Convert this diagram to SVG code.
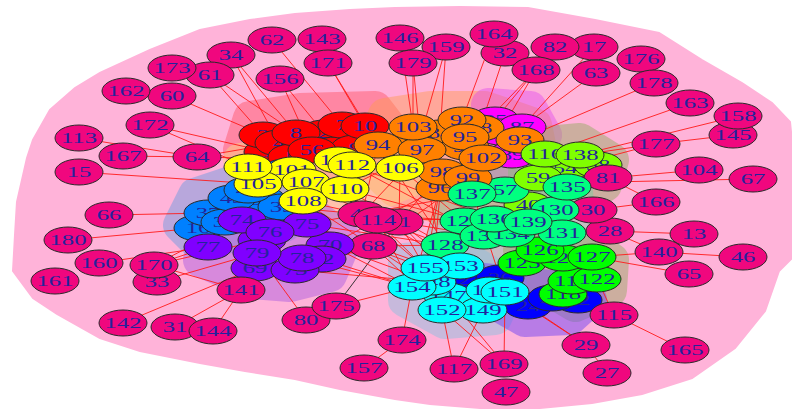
<svg xmlns="http://www.w3.org/2000/svg" width="792" height="411" viewBox="0 0 792 411">
<style>
ellipse{stroke:#2a2a2a;stroke-width:1}
text{font-family:"Liberation Serif","Times New Roman",serif;font-size:15px;fill:#23239c;text-anchor:middle}
.pk ellipse{fill:#f0077e}
.r ellipse{fill:#ff0000}
.o ellipse{fill:#ff8000}
.m ellipse{fill:#ff00ff}
.c ellipse{fill:#80ff00}
.y ellipse{fill:#ffff00}
.d ellipse{fill:#0080ff}
.pu ellipse{fill:#8000ff}
.s ellipse{fill:#00ff80}
.g ellipse{fill:#00ff00}
.cy ellipse{fill:#00ffff}
.b ellipse{fill:#0000ff}
.hull polygon{stroke-width:34;stroke-linejoin:round}
#edges line{stroke:#ff1a1a;stroke-width:0.9}
#edges line.k{stroke:#222}
</style>

<!-- community hulls -->
<g id="hulls">
<polygon fill="#ffb3d9" stroke="#ffb3d9" stroke-width="2" points="200,30 250,20 295,14 350,10 395,8 460,7 528,8 595,20 659,33 702,60 742,83 772,103 790,122 798,200 795,255 779,271 765,311 735,348 692,378 642,394 592,403 540,408 480,408 430,404 395,399 340,389 295,379 245,371 200,363 140,351 100,338 57,314 33,298 13,271 15,235 17,202 27,158 33,140 50,110 75,88 100,73 150,50"/>
<g class="hull" opacity="0.5"><polygon fill="#ff5a6e" stroke="#ff5a6e" points="250,118 300,110 375,108 392,130 372,160 320,168 262,172 240,150"/></g>
<g class="hull" opacity="0.45"><polygon fill="#ff9a50" stroke="#ff9a50" points="385,115 430,108 485,108 535,125 540,150 500,200 440,208 395,190 365,160"/></g>
<g class="hull" opacity="0.4"><polygon fill="#e040f0" stroke="#e040f0" points="488,105 530,108 545,135 525,168 495,160"/></g>
<g class="hull" opacity="0.5"><polygon fill="#ffd080" stroke="#ffd080" points="240,160 290,155 345,148 405,158 410,180 350,205 300,215 250,195"/></g>
<g class="hull" opacity="0.55"><polygon fill="#7f9fe0" stroke="#7f9fe0" points="195,195 240,180 290,165 305,200 285,225 240,235 195,240 180,225"/></g>
<g class="hull" opacity="0.5"><polygon fill="#b060e0" stroke="#b060e0" points="205,240 240,212 310,212 345,240 330,275 290,285 250,282 200,260"/></g>
<g class="hull" opacity="0.5"><polygon fill="#9bab67" stroke="#9bab67" points="525,145 580,140 612,160 605,185 545,215 525,190"/></g>
<g class="hull" opacity="0.4"><polygon fill="#70d0a0" stroke="#70d0a0" points="470,185 520,178 575,180 580,240 530,250 440,252 450,215"/></g>
<g class="hull" opacity="0.5"><polygon fill="#9bab67" stroke="#9bab67" points="520,250 590,245 612,260 610,290 575,305 525,275"/></g>
<g class="hull" opacity="0.5"><polygon fill="#91bfdf" stroke="#91bfdf" points="405,260 460,255 510,285 495,318 445,322 405,300"/></g>
<g class="hull" opacity="0.5"><polygon fill="#7347f3" stroke="#7347f3" points="465,278 560,288 590,300 570,318 525,320 490,300"/></g>
</g>

<!-- connectors -->
<g id="edges">
<line x1="210" y1="75" x2="263" y2="135"/>
<line x1="210" y1="75" x2="296" y2="133"/>
<line x1="231" y1="55" x2="279" y2="143"/>
<line x1="231" y1="55" x2="296" y2="133"/>
<line x1="272" y1="40" x2="342" y2="125"/>
<line x1="280" y1="79" x2="324" y2="133"/>
<line x1="280" y1="79" x2="312" y2="150"/>
<line x1="328" y1="63" x2="365" y2="126"/>
<line x1="328" y1="63" x2="378" y2="145"/>
<line x1="400" y1="38" x2="413" y2="127"/>
<line x1="413" y1="63" x2="413" y2="127"/>
<line x1="413" y1="63" x2="420" y2="138"/>
<line x1="446" y1="47" x2="440" y2="133"/>
<line x1="446" y1="47" x2="420" y2="138"/>
<line x1="494" y1="34" x2="462" y2="120"/>
<line x1="505" y1="53" x2="480" y2="128"/>
<line x1="536" y1="70" x2="495" y2="120"/>
<line x1="536" y1="70" x2="500" y2="132"/>
<line x1="536" y1="70" x2="480" y2="128"/>
<line x1="594" y1="47" x2="522" y2="127"/>
<line x1="596" y1="73" x2="522" y2="127"/>
<line x1="654" y1="83" x2="520" y2="140"/>
<line x1="690" y1="103" x2="545" y2="154"/>
<line x1="738" y1="116" x2="580" y2="155"/>
<line x1="733" y1="135" x2="656" y2="144"/>
<line x1="656" y1="144" x2="580" y2="155"/>
<line x1="656" y1="144" x2="565" y2="168"/>
<line x1="699" y1="170" x2="608" y2="178"/>
<line x1="753" y1="179" x2="608" y2="182"/>
<line x1="608" y1="178" x2="656" y2="202"/>
<line x1="656" y1="202" x2="593" y2="210"/>
<line x1="610" y1="231" x2="694" y2="234"/>
<line x1="610" y1="231" x2="659" y2="252"/>
<line x1="659" y1="252" x2="592" y2="257"/>
<line x1="659" y1="252" x2="743" y2="257"/>
<line x1="592" y1="257" x2="689" y2="274"/>
<line x1="614" y1="315" x2="597" y2="279"/>
<line x1="614" y1="315" x2="685" y2="350"/>
<line x1="586" y1="345" x2="528" y2="306"/>
<line x1="586" y1="345" x2="505" y2="292"/>
<line x1="607" y1="373" x2="586" y2="345"/>
<line x1="504" y1="364" x2="448" y2="296"/>
<line x1="504" y1="364" x2="505" y2="292"/>
<line x1="504" y1="364" x2="442" y2="310"/>
<line x1="454" y1="369" x2="442" y2="310"/>
<line x1="454" y1="369" x2="483" y2="310"/>
<line x1="402" y1="340" x2="412" y2="287"/>
<line x1="364" y1="368" x2="402" y2="340"/>
<line x1="336" y1="306" x2="412" y2="287"/>
<line class="k" x1="336" y1="306" x2="399" y2="222"/>
<line x1="306" y1="320" x2="257" y2="253"/>
<line x1="241" y1="290" x2="302" y2="258"/>
<line x1="241" y1="290" x2="154" y2="265"/>
<line x1="241" y1="290" x2="175" y2="327"/>
<line x1="213" y1="331" x2="241" y2="290"/>
<line x1="123" y1="323" x2="255" y2="268"/>
<line x1="157" y1="282" x2="257" y2="253"/>
<line x1="154" y1="265" x2="242" y2="220"/>
<line x1="154" y1="265" x2="208" y2="247"/>
<line x1="154" y1="265" x2="262" y2="240"/>
<line x1="99" y1="263" x2="208" y2="247"/>
<line x1="68" y1="240" x2="198" y2="228"/>
<line x1="109" y1="215" x2="208" y2="213"/>
<line x1="79" y1="172" x2="258" y2="184"/>
<line x1="79" y1="138" x2="197" y2="157"/>
<line x1="123" y1="156" x2="197" y2="157"/>
<line x1="150" y1="125" x2="268" y2="152"/>
<line x1="150" y1="125" x2="248" y2="167"/>
<line x1="172" y1="96" x2="263" y2="135"/>
<line x1="197" y1="157" x2="338" y2="160"/>
<line x1="197" y1="157" x2="279" y2="143"/>
<!-- central mesh -->
<line x1="362" y1="214" x2="472" y2="194"/>
<line x1="362" y1="214" x2="464" y2="221"/>
<line x1="362" y1="214" x2="445" y2="245"/>
<line x1="362" y1="214" x2="425" y2="268"/>
<line x1="362" y1="214" x2="307" y2="224"/>
<line x1="362" y1="214" x2="378" y2="145"/>
<line x1="362" y1="214" x2="422" y2="150"/>
<line x1="378" y1="220" x2="494" y2="219"/>
<line x1="378" y1="220" x2="460" y2="266"/>
<line x1="378" y1="220" x2="412" y2="287"/>
<line x1="378" y1="220" x2="440" y2="188"/>
<line x1="378" y1="220" x2="345" y2="189"/>
<line x1="378" y1="220" x2="330" y2="245"/>
<line x1="399" y1="222" x2="484" y2="236"/>
<line x1="399" y1="222" x2="483" y2="310"/>
<line x1="399" y1="222" x2="490" y2="290"/>
<line x1="399" y1="222" x2="442" y2="172"/>
<line x1="399" y1="222" x2="400" y2="168"/>
<line x1="399" y1="222" x2="322" y2="259"/>
<line x1="399" y1="222" x2="425" y2="268"/>
<line x1="373" y1="246" x2="448" y2="296"/>
<line x1="373" y1="246" x2="442" y2="310"/>
<line x1="373" y1="246" x2="445" y2="245"/>
<line x1="373" y1="246" x2="468" y2="178"/>
<line x1="373" y1="246" x2="303" y2="201"/>
<line x1="373" y1="246" x2="295" y2="270"/>
<line x1="373" y1="246" x2="470" y2="280"/>
<line x1="345" y1="189" x2="464" y2="221"/>
<line x1="345" y1="189" x2="445" y2="245"/>
<line x1="345" y1="189" x2="425" y2="268"/>
<line x1="400" y1="168" x2="472" y2="194"/>
<line x1="400" y1="168" x2="464" y2="221"/>
<line x1="352" y1="165" x2="484" y2="236"/>
<line x1="338" y1="160" x2="494" y2="219"/>
<line x1="307" y1="224" x2="425" y2="268"/>
<line x1="307" y1="224" x2="445" y2="245"/>
<line x1="330" y1="245" x2="412" y2="287"/>
<line x1="330" y1="245" x2="432" y2="282"/>
<line x1="322" y1="259" x2="412" y2="287"/>
<line x1="440" y1="188" x2="412" y2="287"/>
<line x1="440" y1="188" x2="425" y2="268"/>
<line x1="442" y1="172" x2="432" y2="282"/>
<line x1="468" y1="178" x2="500" y2="278"/>
<line x1="465" y1="147" x2="472" y2="194"/>
<line x1="303" y1="201" x2="362" y2="214"/>
<line x1="306" y1="182" x2="378" y2="220"/>
<line x1="282" y1="207" x2="362" y2="214"/>
<line x1="378" y1="145" x2="345" y2="189"/>
<line x1="422" y1="150" x2="345" y2="189"/>
<line x1="302" y1="258" x2="412" y2="287"/>
<line x1="295" y1="270" x2="432" y2="282"/>
<line x1="422" y1="150" x2="448" y2="296"/>
<line x1="378" y1="145" x2="460" y2="266"/>
</g>

<!-- vertices -->
<g id="v1" class="r" transform="translate(268 152)"><ellipse rx="24" ry="13"/><text transform="scale(1.65 1)" y="5">1</text></g>
<g id="v2" class="r" transform="translate(324 133)"><ellipse rx="24" ry="13"/><text transform="scale(1.65 1)" y="5">2</text></g>
<g id="v3" class="r" transform="translate(263 135)"><ellipse rx="24" ry="13"/><text transform="scale(1.65 1)" y="5">3</text></g>
<g id="v4" class="r" transform="translate(279 143)"><ellipse rx="24" ry="13"/><text transform="scale(1.65 1)" y="5">4</text></g>
<g id="v5" class="r" transform="translate(292 157)"><ellipse rx="24" ry="13"/><text transform="scale(1.65 1)" y="5">5</text></g>
<g id="v6" class="r" transform="translate(335 150)"><ellipse rx="24" ry="13"/><text transform="scale(1.65 1)" y="5">6</text></g>
<g id="v7" class="r" transform="translate(342 125)"><ellipse rx="24" ry="13"/><text transform="scale(1.65 1)" y="5">7</text></g>
<g id="v8" class="r" transform="translate(296 133)"><ellipse rx="24" ry="13"/><text transform="scale(1.65 1)" y="5">8</text></g>
<g id="v9" class="r" transform="translate(355 148)"><ellipse rx="24" ry="13"/><text transform="scale(1.65 1)" y="5">9</text></g>
<g id="v10" class="r" transform="translate(365 126)"><ellipse rx="24" ry="13"/><text transform="scale(1.65 1)" y="5">10</text></g>
<g id="v13" class="pk" transform="translate(694 234)"><ellipse rx="24" ry="13"/><text transform="scale(1.65 1)" y="5">13</text></g>
<g id="v15" class="pk" transform="translate(79 172)"><ellipse rx="24" ry="13"/><text transform="scale(1.65 1)" y="5">15</text></g>
<g id="v16" class="d" transform="translate(198 228)"><ellipse rx="24" ry="13"/><text transform="scale(1.65 1)" y="5">16</text></g>
<g id="v17" class="pk" transform="translate(594 47)"><ellipse rx="24" ry="13"/><text transform="scale(1.65 1)" y="5">17</text></g>
<g id="v22" class="b" transform="translate(578 300)"><ellipse rx="24" ry="13"/><text transform="scale(1.65 1)" y="5">22</text></g>
<g id="v23" class="b" transform="translate(470 280)"><ellipse rx="24" ry="13"/><text transform="scale(1.65 1)" y="5">23</text></g>
<g id="v24" class="b" transform="translate(528 306)"><ellipse rx="24" ry="13"/><text transform="scale(1.65 1)" y="5">24</text></g>
<g id="v25" class="b" transform="translate(552 298)"><ellipse rx="24" ry="13"/><text transform="scale(1.65 1)" y="5">25</text></g>
<g id="v26" class="b" transform="translate(500 278)"><ellipse rx="24" ry="13"/><text transform="scale(1.65 1)" y="5">26</text></g>
<g id="v27" class="pk" transform="translate(607 373)"><ellipse rx="24" ry="13"/><text transform="scale(1.65 1)" y="5">27</text></g>
<g id="v28" class="pk" transform="translate(610 231)"><ellipse rx="24" ry="13"/><text transform="scale(1.65 1)" y="5">28</text></g>
<g id="v29" class="pk" transform="translate(586 345)"><ellipse rx="24" ry="13"/><text transform="scale(1.65 1)" y="5">29</text></g>
<g id="v30" class="pk" transform="translate(593 210)"><ellipse rx="24" ry="13"/><text transform="scale(1.65 1)" y="5">30</text></g>
<g id="v31" class="pk" transform="translate(175 327)"><ellipse rx="24" ry="13"/><text transform="scale(1.65 1)" y="5">31</text></g>
<g id="v32" class="pk" transform="translate(505 53)"><ellipse rx="24" ry="13"/><text transform="scale(1.65 1)" y="5">32</text></g>
<g id="v33" class="pk" transform="translate(157 282)"><ellipse rx="24" ry="13"/><text transform="scale(1.65 1)" y="5">33</text></g>
<g id="v34" class="pk" transform="translate(231 55)"><ellipse rx="24" ry="13"/><text transform="scale(1.65 1)" y="5">34</text></g>
<g id="v35" class="d" transform="translate(262 215)"><ellipse rx="24" ry="13"/><text transform="scale(1.65 1)" y="5">35</text></g>
<g id="v36" class="d" transform="translate(262 200)"><ellipse rx="24" ry="13"/><text transform="scale(1.65 1)" y="5">36</text></g>
<g id="v37" class="d" transform="translate(208 213)"><ellipse rx="24" ry="13"/><text transform="scale(1.65 1)" y="5">37</text></g>
<g id="v38" class="d" transform="translate(225 222)"><ellipse rx="24" ry="13"/><text transform="scale(1.65 1)" y="5">38</text></g>
<g id="v39" class="d" transform="translate(282 207)"><ellipse rx="24" ry="13"/><text transform="scale(1.65 1)" y="5">39</text></g>
<g id="v40" class="c" transform="translate(528 205)"><ellipse rx="24" ry="13"/><text transform="scale(1.65 1)" y="5">40</text></g>
<g id="v43" class="d" transform="translate(232 198)"><ellipse rx="24" ry="13"/><text transform="scale(1.65 1)" y="5">43</text></g>
<g id="v44" class="d" transform="translate(248 190)"><ellipse rx="24" ry="13"/><text transform="scale(1.65 1)" y="5">44</text></g>
<g id="v45" class="d" transform="translate(285 172)"><ellipse rx="24" ry="13"/><text transform="scale(1.65 1)" y="5">45</text></g>
<g id="v46" class="pk" transform="translate(743 257)"><ellipse rx="24" ry="13"/><text transform="scale(1.65 1)" y="5">46</text></g>
<g id="v47" class="pk" transform="translate(506 392)"><ellipse rx="24" ry="13"/><text transform="scale(1.65 1)" y="5">47</text></g>
<g id="v48" class="pk" transform="translate(362 214)"><ellipse rx="24" ry="13"/><text transform="scale(1.65 1)" y="5">48</text></g>
<g id="v54" class="c" transform="translate(565 168)"><ellipse rx="24" ry="13"/><text transform="scale(1.65 1)" y="5">54</text></g>
<g id="v56" class="r" transform="translate(312 150)"><ellipse rx="24" ry="13"/><text transform="scale(1.65 1)" y="5">56</text></g>
<g id="v57" class="s" transform="translate(505 190)"><ellipse rx="24" ry="13"/><text transform="scale(1.65 1)" y="5">57</text></g>
<g id="v58" class="c" transform="translate(598 165)"><ellipse rx="24" ry="13"/><text transform="scale(1.65 1)" y="5">58</text></g>
<g id="v59" class="c" transform="translate(538 178)"><ellipse rx="24" ry="13"/><text transform="scale(1.65 1)" y="5">59</text></g>
<g id="v60" class="pk" transform="translate(172 96)"><ellipse rx="24" ry="13"/><text transform="scale(1.65 1)" y="5">60</text></g>
<g id="v61" class="pk" transform="translate(210 75)"><ellipse rx="24" ry="13"/><text transform="scale(1.65 1)" y="5">61</text></g>
<g id="v62" class="pk" transform="translate(272 40)"><ellipse rx="24" ry="13"/><text transform="scale(1.65 1)" y="5">62</text></g>
<g id="v63" class="pk" transform="translate(596 73)"><ellipse rx="24" ry="13"/><text transform="scale(1.65 1)" y="5">63</text></g>
<g id="v64" class="pk" transform="translate(197 157)"><ellipse rx="24" ry="13"/><text transform="scale(1.65 1)" y="5">64</text></g>
<g id="v65" class="pk" transform="translate(689 274)"><ellipse rx="24" ry="13"/><text transform="scale(1.65 1)" y="5">65</text></g>
<g id="v66" class="pk" transform="translate(109 215)"><ellipse rx="24" ry="13"/><text transform="scale(1.65 1)" y="5">66</text></g>
<g id="v67" class="pk" transform="translate(753 179)"><ellipse rx="24" ry="13"/><text transform="scale(1.65 1)" y="5">67</text></g>
<g id="v68" class="pk" transform="translate(373 246)"><ellipse rx="24" ry="13"/><text transform="scale(1.65 1)" y="5">68</text></g>
<g id="v69" class="pu" transform="translate(255 268)"><ellipse rx="24" ry="13"/><text transform="scale(1.65 1)" y="5">69</text></g>
<g id="v70" class="pu" transform="translate(330 245)"><ellipse rx="24" ry="13"/><text transform="scale(1.65 1)" y="5">70</text></g>
<g id="v71" class="pu" transform="translate(262 240)"><ellipse rx="24" ry="13"/><text transform="scale(1.65 1)" y="5">71</text></g>
<g id="v72" class="pu" transform="translate(322 259)"><ellipse rx="24" ry="13"/><text transform="scale(1.65 1)" y="5">72</text></g>
<g id="v73" class="pu" transform="translate(295 270)"><ellipse rx="24" ry="13"/><text transform="scale(1.65 1)" y="5">73</text></g>
<g id="v74" class="pu" transform="translate(242 220)"><ellipse rx="24" ry="13"/><text transform="scale(1.65 1)" y="5">74</text></g>
<g id="v75" class="pu" transform="translate(307 224)"><ellipse rx="24" ry="13"/><text transform="scale(1.65 1)" y="5">75</text></g>
<g id="v76" class="pu" transform="translate(270 232)"><ellipse rx="24" ry="13"/><text transform="scale(1.65 1)" y="5">76</text></g>
<g id="v77" class="pu" transform="translate(208 247)"><ellipse rx="24" ry="13"/><text transform="scale(1.65 1)" y="5">77</text></g>
<g id="v78" class="pu" transform="translate(302 258)"><ellipse rx="24" ry="13"/><text transform="scale(1.65 1)" y="5">78</text></g>
<g id="v79" class="pu" transform="translate(257 253)"><ellipse rx="24" ry="13"/><text transform="scale(1.65 1)" y="5">79</text></g>
<g id="v80" class="pk" transform="translate(306 320)"><ellipse rx="24" ry="13"/><text transform="scale(1.65 1)" y="5">80</text></g>
<g id="v81" class="pk" transform="translate(608 178)"><ellipse rx="24" ry="13"/><text transform="scale(1.65 1)" y="5">81</text></g>
<g id="v82" class="pk" transform="translate(555 47)"><ellipse rx="24" ry="13"/><text transform="scale(1.65 1)" y="5">82</text></g>
<g id="v83" class="o" transform="translate(420 138)"><ellipse rx="24" ry="13"/><text transform="scale(1.65 1)" y="5">83</text></g>
<g id="v84" class="o" transform="translate(440 133)"><ellipse rx="24" ry="13"/><text transform="scale(1.65 1)" y="5">84</text></g>
<g id="v85" class="m" transform="translate(495 120)"><ellipse rx="24" ry="13"/><text transform="scale(1.65 1)" y="5">85</text></g>
<g id="v86" class="m" transform="translate(500 132)"><ellipse rx="24" ry="13"/><text transform="scale(1.65 1)" y="5">86</text></g>
<g id="v87" class="m" transform="translate(522 127)"><ellipse rx="24" ry="13"/><text transform="scale(1.65 1)" y="5">87</text></g>
<g id="v88" class="o" transform="translate(480 128)"><ellipse rx="24" ry="13"/><text transform="scale(1.65 1)" y="5">88</text></g>
<g id="v89" class="m" transform="translate(512 155)"><ellipse rx="24" ry="13"/><text transform="scale(1.65 1)" y="5">89</text></g>
<g id="v90" class="o" transform="translate(465 147)"><ellipse rx="24" ry="13"/><text transform="scale(1.65 1)" y="5">90</text></g>
<g id="v91" class="pk" transform="translate(399 222)"><ellipse rx="24" ry="13"/><text transform="scale(1.65 1)" y="5">91</text></g>
<g id="v92" class="o" transform="translate(462 120)"><ellipse rx="24" ry="13"/><text transform="scale(1.65 1)" y="5">92</text></g>
<g id="v93" class="o" transform="translate(520 140)"><ellipse rx="24" ry="13"/><text transform="scale(1.65 1)" y="5">93</text></g>
<g id="v94" class="o" transform="translate(378 145)"><ellipse rx="24" ry="13"/><text transform="scale(1.65 1)" y="5">94</text></g>
<g id="v95" class="o" transform="translate(465 137)"><ellipse rx="24" ry="13"/><text transform="scale(1.65 1)" y="5">95</text></g>
<g id="v96" class="o" transform="translate(440 188)"><ellipse rx="24" ry="13"/><text transform="scale(1.65 1)" y="5">96</text></g>
<g id="v97" class="o" transform="translate(422 150)"><ellipse rx="24" ry="13"/><text transform="scale(1.65 1)" y="5">97</text></g>
<g id="v98" class="o" transform="translate(442 172)"><ellipse rx="24" ry="13"/><text transform="scale(1.65 1)" y="5">98</text></g>
<g id="v99" class="o" transform="translate(468 178)"><ellipse rx="24" ry="13"/><text transform="scale(1.65 1)" y="5">99</text></g>
<g id="v101" class="y" transform="translate(292 170)"><ellipse rx="24" ry="13"/><text transform="scale(1.65 1)" y="5">101</text></g>
<g id="v102" class="o" transform="translate(483 158)"><ellipse rx="24" ry="13"/><text transform="scale(1.65 1)" y="5">102</text></g>
<g id="v103" class="o" transform="translate(413 127)"><ellipse rx="24" ry="13"/><text transform="scale(1.65 1)" y="5">103</text></g>
<g id="v104" class="pk" transform="translate(699 170)"><ellipse rx="24" ry="13"/><text transform="scale(1.65 1)" y="5">104</text></g>
<g id="v105" class="y" transform="translate(258 184)"><ellipse rx="24" ry="13"/><text transform="scale(1.65 1)" y="5">105</text></g>
<g id="v106" class="y" transform="translate(400 168)"><ellipse rx="24" ry="13"/><text transform="scale(1.65 1)" y="5">106</text></g>
<g id="v107" class="y" transform="translate(306 182)"><ellipse rx="24" ry="13"/><text transform="scale(1.65 1)" y="5">107</text></g>
<g id="v108" class="y" transform="translate(303 201)"><ellipse rx="24" ry="13"/><text transform="scale(1.65 1)" y="5">108</text></g>
<g id="v109" class="y" transform="translate(338 160)"><ellipse rx="24" ry="13"/><text transform="scale(1.65 1)" y="5">109</text></g>
<g id="v110" class="y" transform="translate(345 189)"><ellipse rx="24" ry="13"/><text transform="scale(1.65 1)" y="5">110</text></g>
<g id="v111" class="y" transform="translate(248 167)"><ellipse rx="24" ry="13"/><text transform="scale(1.65 1)" y="5">111</text></g>
<g id="v112" class="y" transform="translate(352 165)"><ellipse rx="24" ry="13"/><text transform="scale(1.65 1)" y="5">112</text></g>
<g id="v113" class="pk" transform="translate(79 138)"><ellipse rx="24" ry="13"/><text transform="scale(1.65 1)" y="5">113</text></g>
<g id="v114" class="pk" transform="translate(378 220)"><ellipse rx="24" ry="13"/><text transform="scale(1.65 1)" y="5">114</text></g>
<g id="v115" class="pk" transform="translate(614 315)"><ellipse rx="24" ry="13"/><text transform="scale(1.65 1)" y="5">115</text></g>
<g id="v116" class="c" transform="translate(545 154)"><ellipse rx="24" ry="13"/><text transform="scale(1.65 1)" y="5">116</text></g>
<g id="v117" class="pk" transform="translate(454 369)"><ellipse rx="24" ry="13"/><text transform="scale(1.65 1)" y="5">117</text></g>
<g id="v118" class="g" transform="translate(563 294)"><ellipse rx="24" ry="13"/><text transform="scale(1.65 1)" y="5">118</text></g>
<g id="v119" class="g" transform="translate(572 281)"><ellipse rx="24" ry="13"/><text transform="scale(1.65 1)" y="5">119</text></g>
<g id="v121" class="s" transform="translate(464 221)"><ellipse rx="24" ry="13"/><text transform="scale(1.65 1)" y="5">121</text></g>
<g id="v122" class="g" transform="translate(597 279)"><ellipse rx="24" ry="13"/><text transform="scale(1.65 1)" y="5">122</text></g>
<g id="v123" class="g" transform="translate(522 263)"><ellipse rx="24" ry="13"/><text transform="scale(1.65 1)" y="5">123</text></g>
<g id="v124" class="g" transform="translate(563 258)"><ellipse rx="24" ry="13"/><text transform="scale(1.65 1)" y="5">124</text></g>
<g id="v126" class="g" transform="translate(540 250)"><ellipse rx="24" ry="13"/><text transform="scale(1.65 1)" y="5">126</text></g>
<g id="v127" class="g" transform="translate(592 257)"><ellipse rx="24" ry="13"/><text transform="scale(1.65 1)" y="5">127</text></g>
<g id="v128" class="s" transform="translate(445 245)"><ellipse rx="24" ry="13"/><text transform="scale(1.65 1)" y="5">128</text></g>
<g id="v130" class="s" transform="translate(555 210)"><ellipse rx="24" ry="13"/><text transform="scale(1.65 1)" y="5">130</text></g>
<g id="v131" class="s" transform="translate(562 233)"><ellipse rx="24" ry="13"/><text transform="scale(1.65 1)" y="5">131</text></g>
<g id="v133" class="s" transform="translate(484 236)"><ellipse rx="24" ry="13"/><text transform="scale(1.65 1)" y="5">133</text></g>
<g id="v134" class="s" transform="translate(511 234)"><ellipse rx="24" ry="13"/><text transform="scale(1.65 1)" y="5">134</text></g>
<g id="v135" class="s" transform="translate(567 187)"><ellipse rx="24" ry="13"/><text transform="scale(1.65 1)" y="5">135</text></g>
<g id="v136" class="s" transform="translate(494 219)"><ellipse rx="24" ry="13"/><text transform="scale(1.65 1)" y="5">136</text></g>
<g id="v137" class="s" transform="translate(472 194)"><ellipse rx="24" ry="13"/><text transform="scale(1.65 1)" y="5">137</text></g>
<g id="v138" class="c" transform="translate(580 155)"><ellipse rx="24" ry="13"/><text transform="scale(1.65 1)" y="5">138</text></g>
<g id="v139" class="s" transform="translate(528 222)"><ellipse rx="24" ry="13"/><text transform="scale(1.65 1)" y="5">139</text></g>
<g id="v140" class="pk" transform="translate(659 252)"><ellipse rx="24" ry="13"/><text transform="scale(1.65 1)" y="5">140</text></g>
<g id="v141" class="pk" transform="translate(241 290)"><ellipse rx="24" ry="13"/><text transform="scale(1.65 1)" y="5">141</text></g>
<g id="v142" class="pk" transform="translate(123 323)"><ellipse rx="24" ry="13"/><text transform="scale(1.65 1)" y="5">142</text></g>
<g id="v143" class="pk" transform="translate(322 39)"><ellipse rx="24" ry="13"/><text transform="scale(1.65 1)" y="5">143</text></g>
<g id="v144" class="pk" transform="translate(213 331)"><ellipse rx="24" ry="13"/><text transform="scale(1.65 1)" y="5">144</text></g>
<g id="v145" class="pk" transform="translate(733 135)"><ellipse rx="24" ry="13"/><text transform="scale(1.65 1)" y="5">145</text></g>
<g id="v146" class="pk" transform="translate(400 38)"><ellipse rx="24" ry="13"/><text transform="scale(1.65 1)" y="5">146</text></g>
<g id="v147" class="cy" transform="translate(448 296)"><ellipse rx="24" ry="13"/><text transform="scale(1.65 1)" y="5">147</text></g>
<g id="v148" class="cy" transform="translate(432 282)"><ellipse rx="24" ry="13"/><text transform="scale(1.65 1)" y="5">148</text></g>
<g id="v149" class="cy" transform="translate(483 310)"><ellipse rx="24" ry="13"/><text transform="scale(1.65 1)" y="5">149</text></g>
<g id="v150" class="cy" transform="translate(490 290)"><ellipse rx="24" ry="13"/><text transform="scale(1.65 1)" y="5">150</text></g>
<g id="v151" class="cy" transform="translate(505 292)"><ellipse rx="24" ry="13"/><text transform="scale(1.65 1)" y="5">151</text></g>
<g id="v152" class="cy" transform="translate(442 310)"><ellipse rx="24" ry="13"/><text transform="scale(1.65 1)" y="5">152</text></g>
<g id="v153" class="cy" transform="translate(460 266)"><ellipse rx="24" ry="13"/><text transform="scale(1.65 1)" y="5">153</text></g>
<g id="v154" class="cy" transform="translate(412 287)"><ellipse rx="24" ry="13"/><text transform="scale(1.65 1)" y="5">154</text></g>
<g id="v155" class="cy" transform="translate(425 268)"><ellipse rx="24" ry="13"/><text transform="scale(1.65 1)" y="5">155</text></g>
<g id="v156" class="pk" transform="translate(280 79)"><ellipse rx="24" ry="13"/><text transform="scale(1.65 1)" y="5">156</text></g>
<g id="v157" class="pk" transform="translate(364 368)"><ellipse rx="24" ry="13"/><text transform="scale(1.65 1)" y="5">157</text></g>
<g id="v158" class="pk" transform="translate(738 116)"><ellipse rx="24" ry="13"/><text transform="scale(1.65 1)" y="5">158</text></g>
<g id="v159" class="pk" transform="translate(446 47)"><ellipse rx="24" ry="13"/><text transform="scale(1.65 1)" y="5">159</text></g>
<g id="v160" class="pk" transform="translate(99 263)"><ellipse rx="24" ry="13"/><text transform="scale(1.65 1)" y="5">160</text></g>
<g id="v161" class="pk" transform="translate(55 281)"><ellipse rx="24" ry="13"/><text transform="scale(1.65 1)" y="5">161</text></g>
<g id="v162" class="pk" transform="translate(126 91)"><ellipse rx="24" ry="13"/><text transform="scale(1.65 1)" y="5">162</text></g>
<g id="v163" class="pk" transform="translate(690 103)"><ellipse rx="24" ry="13"/><text transform="scale(1.65 1)" y="5">163</text></g>
<g id="v164" class="pk" transform="translate(494 34)"><ellipse rx="24" ry="13"/><text transform="scale(1.65 1)" y="5">164</text></g>
<g id="v165" class="pk" transform="translate(685 350)"><ellipse rx="24" ry="13"/><text transform="scale(1.65 1)" y="5">165</text></g>
<g id="v166" class="pk" transform="translate(656 202)"><ellipse rx="24" ry="13"/><text transform="scale(1.65 1)" y="5">166</text></g>
<g id="v167" class="pk" transform="translate(123 156)"><ellipse rx="24" ry="13"/><text transform="scale(1.65 1)" y="5">167</text></g>
<g id="v168" class="pk" transform="translate(536 70)"><ellipse rx="24" ry="13"/><text transform="scale(1.65 1)" y="5">168</text></g>
<g id="v169" class="pk" transform="translate(504 364)"><ellipse rx="24" ry="13"/><text transform="scale(1.65 1)" y="5">169</text></g>
<g id="v170" class="pk" transform="translate(154 265)"><ellipse rx="24" ry="13"/><text transform="scale(1.65 1)" y="5">170</text></g>
<g id="v171" class="pk" transform="translate(328 63)"><ellipse rx="24" ry="13"/><text transform="scale(1.65 1)" y="5">171</text></g>
<g id="v172" class="pk" transform="translate(150 125)"><ellipse rx="24" ry="13"/><text transform="scale(1.65 1)" y="5">172</text></g>
<g id="v173" class="pk" transform="translate(172 68)"><ellipse rx="24" ry="13"/><text transform="scale(1.65 1)" y="5">173</text></g>
<g id="v174" class="pk" transform="translate(402 340)"><ellipse rx="24" ry="13"/><text transform="scale(1.65 1)" y="5">174</text></g>
<g id="v175" class="pk" transform="translate(336 306)"><ellipse rx="24" ry="13"/><text transform="scale(1.65 1)" y="5">175</text></g>
<g id="v176" class="pk" transform="translate(641 59)"><ellipse rx="24" ry="13"/><text transform="scale(1.65 1)" y="5">176</text></g>
<g id="v177" class="pk" transform="translate(656 144)"><ellipse rx="24" ry="13"/><text transform="scale(1.65 1)" y="5">177</text></g>
<g id="v178" class="pk" transform="translate(654 83)"><ellipse rx="24" ry="13"/><text transform="scale(1.65 1)" y="5">178</text></g>
<g id="v179" class="pk" transform="translate(413 63)"><ellipse rx="24" ry="13"/><text transform="scale(1.65 1)" y="5">179</text></g>
<g id="v180" class="pk" transform="translate(68 240)"><ellipse rx="24" ry="13"/><text transform="scale(1.65 1)" y="5">180</text></g>
</svg>
